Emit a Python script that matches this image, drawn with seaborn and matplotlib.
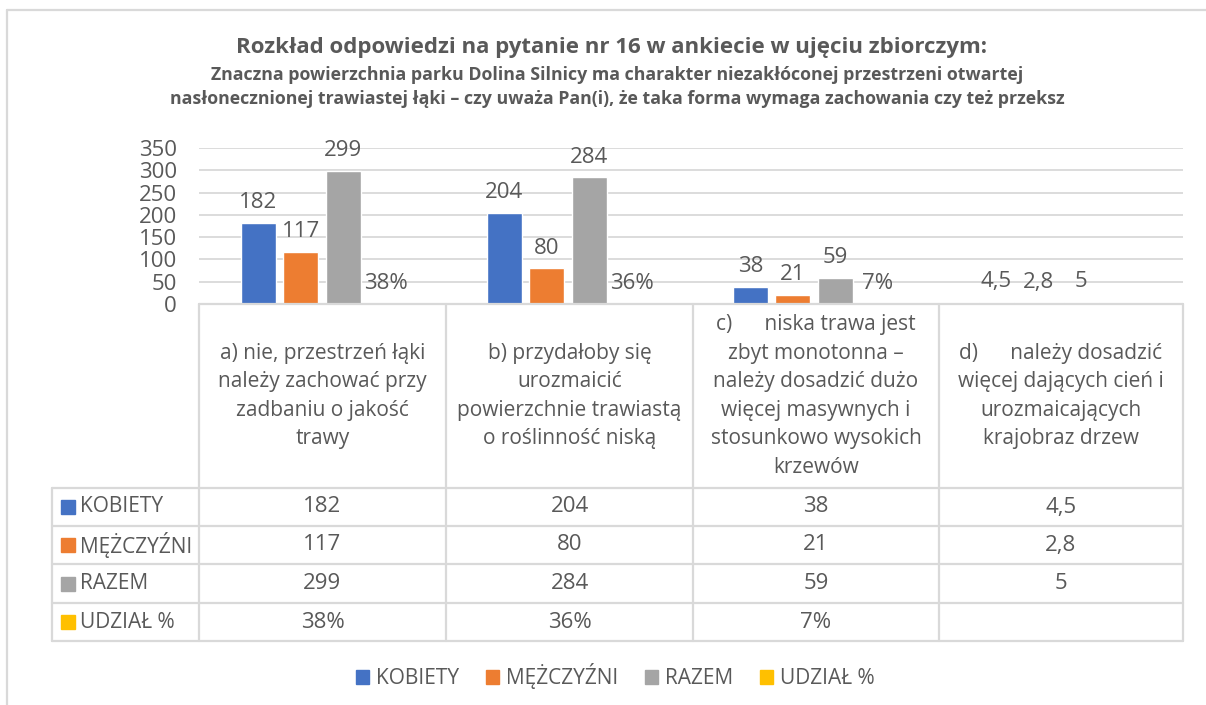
import numpy as np
import pandas as pd
import seaborn as sns
import matplotlib
matplotlib.use("Agg")
import matplotlib.pyplot as plt
from matplotlib.lines import Line2D
from matplotlib.patches import Patch

# dane
kategorie = ["a", "b", "c", "d"]
opisy = [
    "a) nie, przestrzeń łąki\nnależy zachować przy\nzadbaniu o jakość\ntrawy",
    "b) przydałoby się\nurozmaicić\npowierzchnie trawiastą\no roślinność niską",
    "c)      niska trawa jest\nzbyt monotonna –\nnależy dosadzić dużo\nwięcej masywnych i\nstosunkowo wysokich\nkrzewów",
    "d)      należy dosadzić\nwięcej dających cień i\nurozmaicających\nkrajobraz drzew",
]
kobiety = [182, 204, 38, 4.5]
mezczyzni = [117, 80, 21, 2.8]
razem = [299, 284, 59, 5]
udzial = [0.38, 0.36, 0.07, np.nan]
serie = ["KOBIETY", "MĘŻCZYŹNI", "RAZEM", "UDZIAŁ %"]
kolory = ["#4472C4", "#ED7D31", "#A5A5A5", "#FFC000"]

tytul = "Rozkład odpowiedzi na pytanie nr 16 w ankiecie w ujęciu zbiorczym:"
podtytul = ("Znaczna powierzchnia parku Dolina Silnicy ma charakter niezakłóconej przestrzeni otwartej\n"
            "nasłonecznionej trawiastej łąki – czy uważa Pan(i), że taka forma wymaga zachowania czy też przeksz")

sns.set_style("white")
plt.rcParams["font.family"] = ["Open Sans", "DejaVu Sans"]
TXT = "#595959"
SIATKA = "#D9D9D9"
FS = 15

W, H = 1206, 705


def fx(px):
    return px / W


def fy(py):
    return 1 - py / H


def fmt(v, proc=False):
    if pd.isna(v):
        return ""
    if proc:
        return f"{v:.0%}"
    if float(v).is_integer():
        return str(int(v))
    return str(v).replace(".", ",")


wartosci = [kobiety, mezczyzni, razem, udzial]
df = pd.DataFrame({
    "kategoria": kategorie * 4,
    "seria": [s for s in serie for _ in kategorie],
    "wartosc": [v for w in wartosci for v in w],
})

fig = plt.figure(figsize=(12.06, 7.05), dpi=100)
x_lewo, x_prawo, y_gora, y_dol = 199, 1183, 148, 304
ax = fig.add_axes([fx(x_lewo), fy(y_dol), fx(x_prawo - x_lewo), (y_dol - y_gora) / H])

sns.barplot(data=df, x="kategoria", y="wartosc", hue="seria", palette=kolory,
            saturation=1, width=0.69, gap=0.18, ax=ax, legend=False)

ax.set_xlim(-0.5, 3.5)
ax.set_ylim(0, 350)
ax.set_yticks(range(0, 351, 50))
ax.set_xticks([])
ax.set_xlabel("")
ax.set_ylabel("")
ax.grid(axis="y", color=SIATKA, lw=1.3)
ax.set_axisbelow(True)
for s in ax.spines.values():
    s.set_visible(False)
ax.tick_params(axis="y", length=0, pad=16, labelsize=16, labelcolor=TXT)

for i, cont in enumerate(ax.containers):
    etyk = [fmt(b.get_height(), proc=(i == 3)) for b in cont]
    ax.bar_label(cont, labels=etyk, padding=7, fontsize=16, color=TXT)

# tytul
fig.text(fx(611), fy(47), tytul, ha="center", va="center", fontsize=16,
         fontweight="bold", color=TXT)
fig.text(fx(617), fy(87), podtytul, ha="center", va="center", fontsize=12.8,
         fontweight="bold", color=TXT, linespacing=1.45)

# tabela danych
kolumny = [199, 446, 693, 939, 1183]
wiersze = [488, 526, 564, 603, 641]
x_tab = 52


def linia(xs, ys):
    fig.add_artist(Line2D([fx(x) for x in xs], [fy(y) for y in ys],
                          transform=fig.transFigure, color=SIATKA, lw=1.6))


linia([kolumny[0], kolumny[-1]], [y_dol, y_dol])
for y in wiersze:
    linia([x_tab, kolumny[-1]], [y, y])
for x in kolumny:
    linia([x, x], [y_dol, wiersze[-1]])
linia([x_tab, x_tab], [wiersze[0], wiersze[-1]])

for j, op in enumerate(opisy):
    xc = (kolumny[j] + kolumny[j + 1]) / 2
    fig.text(fx(xc), fy((y_dol + wiersze[0]) / 2), op, ha="center", va="center",
             fontsize=FS, color=TXT, linespacing=1.47)

for i, (s, w) in enumerate(zip(serie, wartosci)):
    yc = (wiersze[i] + wiersze[i + 1]) / 2
    fig.patches.append(plt.Rectangle((fx(61), fy(yc + 7)), fx(14), 14 / H,
                                     transform=fig.transFigure, color=kolory[i]))
    fig.text(fx(80), fy(yc), s, ha="left", va="center", fontsize=FS, color=TXT)
    for j, v in enumerate(w):
        xc = (kolumny[j] + kolumny[j + 1]) / 2
        fig.text(fx(xc), fy(yc), fmt(v, proc=(i == 3)), ha="center", va="center",
                 fontsize=16, color=TXT)

# legenda
uchwyty = [Patch(color=k, label=s) for k, s in zip(kolory, serie)]
leg = fig.legend(handles=uchwyty, loc="center", bbox_to_anchor=(fx(615), fy(676)),
                 ncol=4, frameon=False, fontsize=FS, handlelength=0.65,
                 handleheight=0.65, handletextpad=0.3, columnspacing=1.3)
for t in leg.get_texts():
    t.set_color(TXT)

# ramka
linia([7, W], [10, 10])
linia([7, 7], [10, H])

fig.savefig("out.png", dpi=100)
